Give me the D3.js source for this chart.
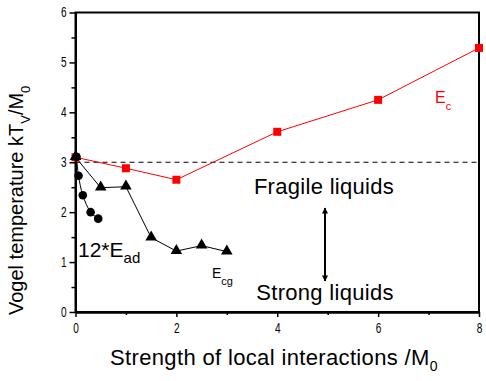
<!DOCTYPE html>
<html><head><meta charset="utf-8">
<script src="https://cdn.jsdelivr.net/npm/d3@7"></script>
<style>
body{margin:0;background:#fff;}
text{font-family:Arial,"Liberation Sans",sans-serif;}
</style></head>
<body><svg id="c" width="486" height="381"></svg>
<script>
const ecX = [0, 1, 2, 4, 6, 8];
const ecY = [3.1, 2.88, 2.65, 3.61, 4.25, 5.29];
const ecgX = [0, 0.5, 1, 1.5, 2, 2.5, 3];
const ecgY = [3.1, 2.49, 2.51, 1.49, 1.22, 1.33, 1.21];
const eadX = [0.02, 0.06, 0.145, 0.3, 0.45];
const eadY = [3.11, 2.73, 2.34, 2.0, 1.87];
const dashY = 3;
const xTicks = [0, 2, 4, 6, 8];
const yTicks = [0, 1, 2, 3, 4, 5, 6];

const svg = d3.select("#c");
const x = d3.scaleLinear().domain([0, 8]).range([75.5, 479]);
const y = d3.scaleLinear().domain([0, 6]).range([312, 12.5]);

// Frame
svg.append("rect").attr("x", x(0)).attr("y", y(6)).attr("width", x(8) - x(0)).attr("height", y(0) - y(6))
  .attr("fill", "none").attr("stroke", "#000").attr("stroke-width", 2);

// Axes
const sx = 0.72;
const xAxis = svg.append("g").attr("transform", `translate(0,${y(0)})`)
  .call(d3.axisBottom(x).tickValues(xTicks).tickFormat(d3.format("d")).tickSize(5).tickSizeOuter(0));
svg.append("g").attr("transform", `translate(0,${y(0)})`)
  .call(d3.axisBottom(x).tickValues(d3.range(1, 8, 2)).tickFormat("").tickSize(3).tickSizeOuter(0));
const yAxis = svg.append("g").attr("transform", `translate(${x(0)},0)`)
  .call(d3.axisLeft(y).tickValues(yTicks).tickFormat(d3.format("d")).tickSize(6).tickSizeOuter(0));
svg.append("g").attr("transform", `translate(${x(0)},0)`)
  .call(d3.axisLeft(y).tickValues(d3.range(0.5, 6, 1)).tickFormat("").tickSize(4).tickSizeOuter(0));
svg.selectAll(".domain").attr("stroke", "#000").attr("stroke-width", 2);
svg.selectAll(".tick line").attr("stroke", "#000").attr("stroke-width", 1.5);
svg.selectAll(".tick text").attr("font-size", 14).attr("fill", "#000")
  .attr("font-family", "Arial, 'Liberation Sans', sans-serif");
xAxis.selectAll(".tick text").attr("dy", "0.85em").attr("y", 9).attr("transform", `scale(${sx},1)`);
yAxis.selectAll(".tick text").attr("x", -9 / sx).attr("transform", `scale(${sx},1)`);

// Dashed line
svg.append("line").attr("x1", x(0)).attr("x2", x(8)).attr("y1", y(dashY)).attr("y2", y(dashY))
  .attr("stroke", "#000").attr("stroke-dasharray", "5,4").attr("stroke-width", 1);

const line = d3.line().x(d => x(d[0])).y(d => y(d[1]));
const ec = ecX.map((v, i) => [v, ecY[i]]);
const ecg = ecgX.map((v, i) => [v, ecgY[i]]);
const ead = eadX.map((v, i) => [v, eadY[i]]);

svg.append("path").attr("d", line(ec)).attr("fill", "none").attr("stroke", "#ff0000").attr("stroke-width", 1);
svg.append("path").attr("d", line(ecg)).attr("fill", "none").attr("stroke", "#000").attr("stroke-width", 1);
svg.append("path").attr("d", line.curve(d3.curveCatmullRom)(ead)).attr("fill", "none").attr("stroke", "#000").attr("stroke-width", 1);

svg.selectAll(".sq").data(ec).join("rect").attr("x", d => x(d[0]) - 4).attr("y", d => y(d[1]) - 4)
  .attr("width", 8).attr("height", 8).attr("fill", "#ff0000");
const tri = d3.symbol().type(d3.symbolTriangle).size(58);
svg.selectAll(".tri").data(ecg).join("path").attr("d", tri)
  .attr("transform", d => `translate(${x(d[0])},${y(d[1]) - 0.5})`).attr("fill", "#000");
svg.selectAll(".ci").data(ead).join("circle").attr("cx", d => x(d[0])).attr("cy", d => y(d[1]))
  .attr("r", 4.3).attr("fill", "#000");

// Arrow
svg.append("defs").html(`<marker id="ah" viewBox="0 0 10 10" refX="9" refY="5" markerWidth="12" markerHeight="6" orient="auto-start-reverse" markerUnits="userSpaceOnUse"><path d="M0,0 L10,5 L0,10 z" fill="#000"/></marker>`);
svg.append("line").attr("x1", 325).attr("x2", 325).attr("y1", 208).attr("y2", 281)
  .attr("stroke", "#000").attr("stroke-width", 2)
  .attr("marker-start", "url(#ah)").attr("marker-end", "url(#ah)");

// Texts
svg.append("text").attr("x", 324).attr("y", 194).attr("text-anchor", "middle").attr("font-size", 22)
  .attr("letter-spacing", 0.3).text("Fragile liquids");
svg.append("text").attr("x", 325).attr("y", 300).attr("text-anchor", "middle").attr("font-size", 22)
  .attr("letter-spacing", 0.3).text("Strong liquids");

const t1 = svg.append("text").attr("x", 78).attr("y", 257).attr("font-size", 21);
t1.append("tspan").text("12*E");
t1.append("tspan").attr("dy", 6).attr("font-size", 15).text("ad");

const t2 = svg.append("text").attr("x", 212).attr("y", 278).attr("font-size", 14);
t2.append("tspan").text("E");
t2.append("tspan").attr("dy", 7).attr("font-size", 11).text("cg");

const t3 = svg.append("text").attr("x", 435).attr("y", 103).attr("font-size", 16).attr("fill", "#ff0000");
t3.append("tspan").text("E");
t3.append("tspan").attr("dy", 7).attr("font-size", 11).text("c");

const xt = svg.append("text").attr("x", 110).attr("y", 365).attr("font-size", 22).attr("letter-spacing", 0.35);
xt.append("tspan").text("Strength of local interactions /M");
xt.append("tspan").attr("dy", 6).attr("font-size", 14).text("0");

const yt = svg.append("text").attr("transform", "translate(23,315) rotate(-90)").attr("font-size", 20);
yt.append("tspan").text("Vogel temperature kT");
yt.append("tspan").attr("dy", 7).attr("font-size", 13).text("V");
yt.append("tspan").attr("dy", -7).text("/M");
yt.append("tspan").attr("dy", 7).attr("font-size", 13).text("0");
</script></body></html>
